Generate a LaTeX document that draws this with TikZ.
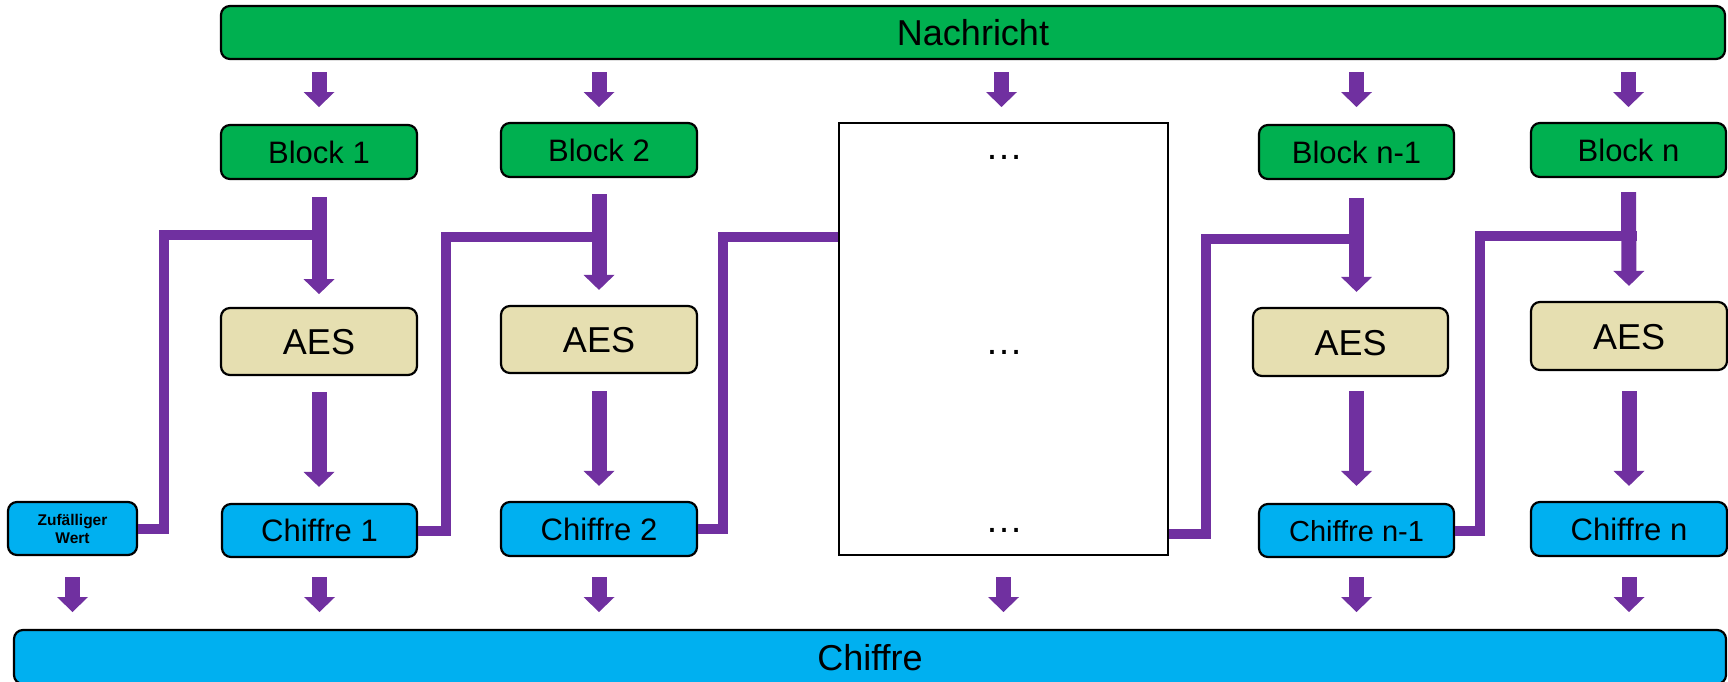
\documentclass[tikz,border=0pt]{standalone}
\usepackage{fontspec}
\setmainfont{Liberation Sans}
\usetikzlibrary{arrows.meta,calc}
\definecolor{pgreen}{HTML}{00B050}
\definecolor{pblue}{HTML}{00B0F0}
\definecolor{pbeige}{HTML}{E6DFB1}
\definecolor{ppurple}{HTML}{7030A0}
\begin{document}
\begin{tikzpicture}[x=1pt,y=-1pt,
  box/.style={draw=black, line width=2.2pt, rounded corners=9pt, inner sep=0pt, text depth=0pt},
  grn/.style={box, fill=pgreen},
  blu/.style={box, fill=pblue},
  aesbox/.style={box, fill=pbeige, minimum width=196pt, minimum height=67pt,
    font=\fontsize{36}{40}\selectfont, text height=26pt},
  blockbox/.style={grn, minimum width=196pt, minimum height=54pt,
    font=\fontsize{31}{36}\selectfont, text height=22pt},
  chbox/.style={blu, minimum width=196pt, minimum height=54pt,
    font=\fontsize{31}{36}\selectfont, text height=22pt},
  dots/.style={inner sep=0pt, anchor=base, font=\fontsize{38}{40}\selectfont},
  arr/.style={draw=ppurple, line width=15pt,
    -{Triangle[width=31pt,length=15pt,line width=0pt]}},
  link/.style={draw=ppurple, line width=10pt, line join=miter}]
\useasboundingbox (0,0) rectangle (1728,681);

% top message
\node[grn, minimum width=1504pt, minimum height=53pt,
  font=\fontsize{36}{40}\selectfont, text height=26pt] (nach) at (973,32.5) {Nachricht};

% blocks
\node[blockbox] (b1) at (319,152) {Block 1};
\node[blockbox] (b2) at (599,150) {Block 2};
\node[blockbox, minimum width=195pt] (bn1) at (1356.5,152) {Block n-1};
\node[blockbox, minimum width=195pt] (bn) at (1628.5,150) {Block n};

% ellipsis box
\node[draw=black, line width=2.2pt, fill=white, minimum width=329pt,
  minimum height=432pt, inner sep=0pt] (ell) at (1003.5,339) {};
\node[dots] (d1) at (1004,159) {…};
\node[dots] (d2) at (1004,354) {…};
\node[dots] (d3) at (1004,532) {…};

% AES
\node[aesbox] (a1) at (319,341.5) {AES};
\node[aesbox] (a2) at (599,339.5) {AES};
\node[aesbox, minimum width=195pt, minimum height=68pt] (an1) at (1350.5,342) {AES};
\node[aesbox, minimum height=68pt] (an) at (1629,336) {AES};

% ciphers
\node[blu, minimum width=129pt, minimum height=53pt, align=center,
  font=\fontsize{15.5}{18}\selectfont\bfseries] (zw) at (72.5,528.5) {Zufälliger\\Wert};
\node[chbox, minimum width=195pt, minimum height=53pt] (c1) at (319.5,530.5) {Chiffre 1};
\node[chbox] (c2) at (599,529) {Chiffre 2};
\node[chbox, minimum width=195pt, minimum height=53pt,
  font=\fontsize{29}{34}\selectfont, text height=21pt] (cn1) at (1356.5,530.5) {Chiffre n-1};
\node[chbox] (cn) at (1629,529) {Chiffre n};

% bottom cipher
\node[blu, minimum width=1712pt, minimum height=54pt,
  font=\fontsize{36}{40}\selectfont, text height=26pt] (chif) at (870,657) {Chiffre};

% helper rows
\coordinate (r1a) at (0,72);
\coordinate (r1b) at (0,107);
\coordinate (r4a) at (0,577);
\coordinate (r4b) at (0,612);
\coordinate (j1) at (164,235);
\coordinate (j2) at (446,237);
\coordinate (j3) at (723,237);
\coordinate (j4) at (1206,239);
\coordinate (j5) at (1480,236);
\coordinate (k4) at (0,534);

% chaining links
\draw[link] (zw.east) -| (j1) -- (b1.center |- j1);
\draw[link] (c1.east) -| (j2) -- (b2.center |- j2);
\draw[link] (c2.east) -| (j3) -- (ell.west |- j3);
\draw[link] (ell.east |- k4) -| (j4) -- (bn1.center |- j4);
\draw[link] (cn1.east) -| (j5) -- ($(bn.center |- j5)+(8,0)$);

% message -> blocks
\draw[arr] (b1.north |- r1a) -- (b1.north |- r1b);
\draw[arr] (b2.north |- r1a) -- (b2.north |- r1b);
\draw[arr] ($(ell.north |- r1a)+(-2,0)$) -- ($(ell.north |- r1b)+(-2,0)$);
\draw[arr] (bn1.north |- r1a) -- (bn1.north |- r1b);
\draw[arr] (bn.north |- r1a) -- (bn.north |- r1b);

% blocks -> AES
\draw[arr] ($(b1.south)+(0,17)$) -- ($(a1.north |- b1.south)+(0,114)$);
\draw[arr] ($(b2.south)+(0,16)$) -- ($(a2.north)+(0,-15)$);
\draw[arr] ($(bn1.south)+(0,18)$) -- ($(bn1.south |- an1.north)+(0,-15)$);
\draw[arr] ($(bn.south)+(0,14)$) -- ($(an.north)+(0,-15)$);

% AES -> ciphers
\draw[arr] ($(a1.south)+(0,16)$) -- ($(a1.south |- c1.north)+(0,-16)$);
\draw[arr] ($(a2.south)+(0,17)$) -- ($(c2.north)+(0,-15)$);
\draw[arr] ($(an1.south -| cn1.north)+(0,14)$) -- ($(cn1.north)+(0,-17)$);
\draw[arr] ($(an.south)+(0,20)$) -- ($(cn.north)+(0,-15)$);

% ciphers -> total cipher
\draw[arr] (zw.south |- r4a) -- (zw.south |- r4b);
\draw[arr] (c1.south |- r4a) -- (c1.south |- r4b);
\draw[arr] (c2.south |- r4a) -- (c2.south |- r4b);
\draw[arr] (ell.south |- r4a) -- (ell.south |- r4b);
\draw[arr] (cn1.south |- r4a) -- (cn1.south |- r4b);
\draw[arr] (cn.south |- r4a) -- (cn.south |- r4b);
\end{tikzpicture}
\end{document}
